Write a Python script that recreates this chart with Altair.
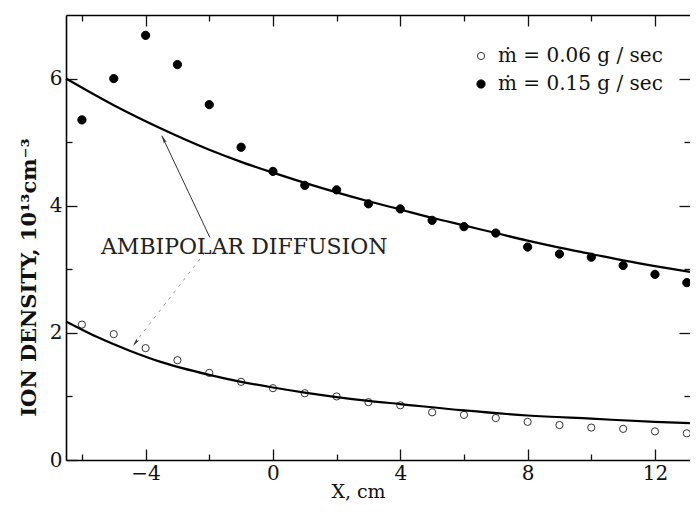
import altair as alt
import pandas as pd

# ---- data ----
x_pts = [-6, -5, -4, -3, -2, -1, 0, 1, 2, 3, 4, 5, 6, 7, 8, 9, 10, 11, 12, 13]
y_low = [2.13, 1.98, 1.76, 1.57, 1.37, 1.23, 1.13, 1.05, 1.00, 0.91, 0.86, 0.75, 0.71, 0.66,
         0.60, 0.55, 0.51, 0.49, 0.45, 0.42]
y_high = [5.35, 6.00, 6.68, 6.22, 5.59, 4.92, 4.54, 4.32, 4.25, 4.03, 3.95, 3.77, 3.67, 3.57,
          3.35, 3.24, 3.19, 3.06, 2.92, 2.79]
series_names = ["ṁ = 0.06 g / sec", "ṁ = 0.15 g / sec"]

curve_hi_x = [-6.5, -5, -3.5, -2, -1, 0, 1, 2, 3, 4, 5, 6, 7, 8, 9, 10, 11, 12, 13.1]
curve_hi_y = [6.00, 5.58, 5.21, 4.88, 4.69, 4.52, 4.36, 4.21, 4.07, 3.94, 3.81, 3.69, 3.57,
              3.45, 3.34, 3.24, 3.14, 3.05, 2.96]
curve_lo_x = [-6.5, -5.5, -4.5, -3.5, -2, -1, 0, 1, 2, 3, 4, 6, 8, 10, 12, 13.1]
curve_lo_y = [2.18, 1.93, 1.72, 1.54, 1.34, 1.23, 1.14, 1.06, 0.99, 0.93, 0.88, 0.78, 0.70,
              0.65, 0.60, 0.58]

annot_text = ["AMBIPOLAR DIFFUSION"]
annot_x = [-0.90]
annot_y = [3.35]

arrow_hi = {"x": [-1.98], "y": [3.50], "x2": [-3.49], "y2": [5.10]}
arrow_lo = {"x": [-2.14], "y": [3.26], "x2": [-4.40], "y2": [1.80]}
head_x = [-3.43, -4.31]
head_y = [5.04, 1.85]
head_angle = [333.4, 217.7]

x_major = [-4, 0, 4, 8, 12]
x_minor = [-6, -2, 2, 6, 10]
y_major = [0, 2, 4, 6]
y_minor = [1, 3, 5]
y_right_major = [2, 4, 6]

X_DOMAIN = [-6.5, 13.1]
Y_DOMAIN = [0, 7]
FONT = "DejaVu Serif"
MAJ, MIN = 11, 6

pts = pd.DataFrame({
    "x": x_pts + x_pts,
    "y": y_low + y_high,
    "series": [series_names[0]] * len(x_pts) + [series_names[1]] * len(x_pts),
})
hi = pd.DataFrame({"x": curve_hi_x, "y": curve_hi_y})
lo = pd.DataFrame({"x": curve_lo_x, "y": curve_lo_y})
ann = pd.DataFrame({"x": annot_x, "y": annot_y, "t": annot_text})
ahi = pd.DataFrame(arrow_hi)
alo = pd.DataFrame(arrow_lo)
heads = pd.DataFrame({"x": head_x, "y": head_y, "a": head_angle})

xs = alt.Scale(domain=X_DOMAIN, nice=False, zero=False)
ys = alt.Scale(domain=Y_DOMAIN, nice=False, zero=False)


def tick_axis(orient, values, size):
    return alt.Axis(orient=orient, values=values, tickSize=size, offset=-size,
                    domain=False, labels=False, title=None, grid=False,
                    ticks=True, tickColor="#111", tickWidth=1.3)


legend = alt.Legend(orient="none", legendX=405, legendY=31, title=None,
                    labelFont=FONT, labelFontSize=20, labelColor="#111",
                    labelLimit=400, symbolType="circle",
                    symbolStrokeWidth=1, rowPadding=8, labelOffset=7)
points = alt.Chart(pts).mark_point(shape="circle", filled=True,
                                   strokeWidth=1, opacity=1, fillOpacity=1).encode(
    x=alt.X("x:Q", scale=xs, axis=alt.Axis(
        orient="bottom", values=x_major, ticks=False, domain=True, domainColor="black",
        domainWidth=1.6, labels=True, labelFont=FONT, labelFontSize=20, labelColor="#111",
        labelPadding=3, grid=False, title="X, cm", titleFont=FONT, titleFontSize=19,
        titleFontWeight="normal", titleColor="#111", titleX=292, titleY=22,
        titleAnchor="middle")),
    y=alt.Y("y:Q", scale=ys, axis=alt.Axis(
        orient="left", values=y_major, ticks=False, domain=True, domainColor="black",
        domainWidth=1.6, labels=True, labelFont=FONT, labelFontSize=20, labelColor="#111",
        labelPadding=4, grid=False, title="ION DENSITY, 10¹³cm⁻³", titleFont=FONT,
        titleFontSize=21, titleFontWeight="bold", titleColor="#111", titleX=-27,
        titleY=262, titleAnchor="middle")),
    fill=alt.Fill("series:N", scale=alt.Scale(domain=series_names, range=["white", "black"]),
                  legend=legend),
    stroke=alt.Stroke("series:N", scale=alt.Scale(domain=series_names, range=["#333", "black"]),
                      legend=legend),
    size=alt.Size("series:N", scale=alt.Scale(domain=series_names, range=[52, 68]),
                  legend=legend),
)

curve_hi = alt.Chart(hi).mark_line(interpolate="monotone", color="black", strokeWidth=2.2).encode(
    x=alt.X("x:Q", scale=xs, axis=tick_axis("bottom", x_major, MAJ)),
    y=alt.Y("y:Q", scale=ys, axis=tick_axis("left", y_major, MAJ)),
)
curve_lo = alt.Chart(lo).mark_line(interpolate="monotone", color="black", strokeWidth=2.2).encode(
    x=alt.X("x:Q", scale=xs, axis=tick_axis("bottom", x_minor, MIN)),
    y=alt.Y("y:Q", scale=ys, axis=tick_axis("left", y_minor, MIN)),
)
annot = alt.Chart(ann).mark_text(font=FONT, fontSize=22, color="#222", align="center",
                                 baseline="middle").encode(
    x=alt.X("x:Q", scale=xs, axis=alt.Axis(orient="top", domain=True, domainColor="black",
                                           domainWidth=1.6, ticks=False, labels=False,
                                           title=None, grid=False)),
    y=alt.Y("y:Q", scale=ys, axis=tick_axis("right", y_right_major, MAJ)),
    text="t:N",
)
arr1 = alt.Chart(ahi).mark_rule(color="#333", strokeWidth=1).encode(
    x=alt.X("x:Q", scale=xs, axis=tick_axis("top", x_major, MAJ)),
    y=alt.Y("y:Q", scale=ys, axis=tick_axis("right", y_minor, MIN)),
    x2="x2:Q", y2="y2:Q",
)
arr2 = alt.Chart(alo).mark_rule(color="#999", strokeWidth=1, strokeDash=[3, 5]).encode(
    x=alt.X("x:Q", scale=xs, axis=tick_axis("top", x_minor, MIN)),
    y=alt.Y("y:Q", scale=ys, axis=None),
    x2="x2:Q", y2="y2:Q",
)
heads_layer = alt.Chart(heads).mark_point(
    shape="M0,-1L0.35,0.8L0,0.45L-0.35,0.8Z", filled=True, color="#333", size=80,
    opacity=1).encode(
    x=alt.X("x:Q", scale=xs, axis=None),
    y=alt.Y("y:Q", scale=ys, axis=None),
    angle=alt.Angle("a:Q", scale=None),
)

chart = alt.layer(points, curve_hi, curve_lo, annot, arr1, arr2, heads_layer).resolve_axis(
    x="independent", y="independent"
).properties(
    width=624, height=445,
    padding={"left": 58, "top": 7, "right": 0, "bottom": 44},
    autosize=alt.AutoSizeParams(type="none"),
    background="white",
).configure_view(stroke=None)

chart.save("out.html", embed_options={"renderer": "svg", "actions": False})
